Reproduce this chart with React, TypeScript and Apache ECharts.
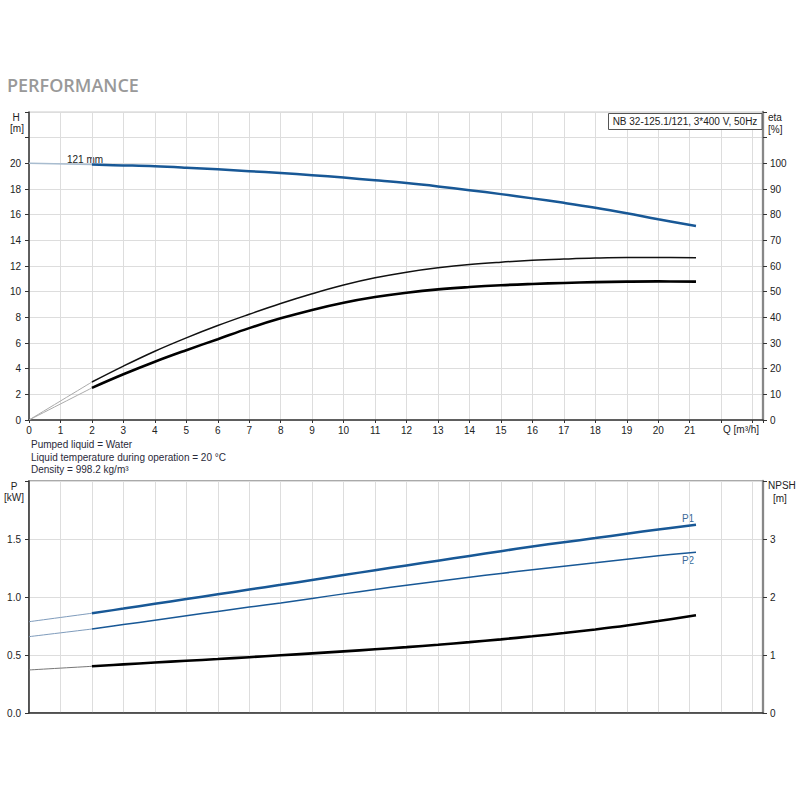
import React, { useEffect, useRef } from "react";
import * as echarts from "echarts";

// Flow points (m³/h) for the operating range
const Q = [2, 3, 4, 5, 6, 7, 8, 9, 10, 11, 12, 13, 14, 15, 16, 17, 18, 19, 20, 21.2];
// Extrapolated (thin) range
const Q_EXT = [0, 2];

// Head H [m]
const H = [19.9, 19.84, 19.77, 19.66, 19.53, 19.39, 19.24, 19.08, 18.89, 18.68, 18.46, 18.2, 17.91, 17.6, 17.27, 16.92, 16.54, 16.11, 15.64, 15.12];
const H_EXT = [20.0, 19.9];

// Efficiency eta [%] (upper, thin black)
const ETA_PUMP = [14.8, 21.0, 26.8, 32.0, 36.8, 41.2, 45.4, 49.2, 52.6, 55.4, 57.6, 59.3, 60.6, 61.5, 62.2, 62.7, 63.1, 63.3, 63.3, 63.2];
const ETA_PUMP_EXT = [0, 14.8];
// Efficiency eta [%] (lower, thick black)
const ETA_TOTAL = [12.5, 17.8, 22.7, 27.2, 31.5, 35.8, 39.6, 42.9, 45.7, 47.9, 49.6, 50.9, 51.8, 52.5, 53.0, 53.4, 53.7, 53.9, 54.0, 53.9];
const ETA_TOTAL_EXT = [0, 12.5];

// Power P1 / P2 [kW]
const P1 = [0.86, 0.9, 0.941, 0.982, 1.023, 1.064, 1.105, 1.147, 1.189, 1.231, 1.272, 1.313, 1.354, 1.395, 1.435, 1.472, 1.508, 1.545, 1.582, 1.623];
const P1_EXT = [0.787, 0.86];
const P2 = [0.724, 0.762, 0.8, 0.838, 0.876, 0.913, 0.949, 0.988, 1.027, 1.065, 1.101, 1.136, 1.17, 1.203, 1.235, 1.266, 1.296, 1.326, 1.355, 1.386];
const P2_EXT = [0.658, 0.724];

// NPSH [m]
const NPSH = [0.805, 0.838, 0.87, 0.9, 0.93, 0.962, 0.995, 1.028, 1.062, 1.098, 1.136, 1.177, 1.222, 1.27, 1.322, 1.378, 1.44, 1.508, 1.585, 1.686];
const NPSH_EXT = [0.742, 0.805];

const X_MAX = 23.33;
const FONT = "'Liberation Sans', Arial, sans-serif";
const BLUE = "#185896";

const pairs = (xs: number[], ys: number[]) => xs.map((x, i) => [x, ys[i]]);

export default function App() {
  const ref = useRef<HTMLDivElement>(null);
  useEffect(() => {
    document.body.style.margin = "0";
    const chart = echarts.init(ref.current!, undefined, { renderer: "svg" });
    const txt = { fontFamily: FONT, fontSize: 10, color: "#222" };
    const gridLine = { show: true, lineStyle: { color: "#dddddd", width: 1 } };
    const xBase = (gridIndex: number, labels: boolean) => ({
      type: "value",
      gridIndex,
      min: 0,
      max: X_MAX,
      interval: 1,
      axisLine: { show: true, onZero: false, lineStyle: { color: "#333", width: 1.5 } },
      axisTick: { show: labels, length: 3, lineStyle: { color: "#333" } },
      axisLabel: {
        show: labels,
        ...txt,
        margin: 5,
        formatter: (v: number) => (v <= 21 && Number.isInteger(v) ? String(v) : ""),
      },
      splitLine: gridLine,
    });
    const line = (name: string, data: number[][], color: string, width: number, xi: number, yi: number) => ({
      name,
      type: "line",
      xAxisIndex: xi,
      yAxisIndex: yi,
      data,
      smooth: 0.4,
      symbol: "none",
      lineStyle: { color, width },
      silent: true,
    });
    const t = (text: string, x: number, y: number, align = "center", extra: any = {}) => ({
      type: "text",
      x,
      y,
      style: {
        text,
        fill: "#222",
        font: `10px ${FONT}`,
        textAlign: align,
        textVerticalAlign: "middle",
        ...extra,
      },
    });

    chart.setOption({
      animation: false,
      grid: [
        { left: 29, right: 37, top: 112, height: 308, show: true, borderColor: "#cccccc", borderWidth: 1, backgroundColor: "transparent" },
        { left: 29, right: 37, top: 481, height: 232, show: true, borderColor: "#aaaaaa", borderWidth: 2, backgroundColor: "transparent" },
      ],
      xAxis: [xBase(0, true), xBase(1, false)],
      yAxis: [
        {
          type: "value", gridIndex: 0, min: 0, max: 24, interval: 2, position: "left",
          axisLine: { show: true, lineStyle: { color: "#333", width: 1.5 } },
          axisTick: { show: true, length: 4, lineStyle: { color: "#333" } },
          axisLabel: { ...txt, margin: 8, formatter: (v: number) => (v > 20 ? "" : String(v)) },
          splitLine: gridLine,
        },
        {
          type: "value", gridIndex: 0, min: 0, max: 120, interval: 10, position: "right",
          axisLine: { show: true, lineStyle: { color: "#888", width: 2.3 } },
          axisTick: { show: true, length: 4, lineStyle: { color: "#333" } },
          axisLabel: { ...txt, margin: 7, formatter: (v: number) => (v > 100 ? "" : String(v)) },
          splitLine: { show: false },
        },
        {
          type: "value", gridIndex: 1, min: 0, max: 2, interval: 0.5, position: "left",
          axisLine: { show: true, lineStyle: { color: "#333", width: 1.5 } },
          axisTick: { show: true, length: 4, lineStyle: { color: "#333" } },
          axisLabel: { ...txt, margin: 8, formatter: (v: number) => (v > 1.6 ? "" : v.toFixed(1)) },
          splitLine: gridLine,
        },
        {
          type: "value", gridIndex: 1, min: 0, max: 4, interval: 1, position: "right",
          axisLine: { show: true, lineStyle: { color: "#888", width: 2.3 } },
          axisTick: { show: true, length: 4, lineStyle: { color: "#333" } },
          axisLabel: { ...txt, margin: 7, formatter: (v: number) => (v > 3 ? "" : String(v)) },
          splitLine: { show: false },
        },
      ],
      series: [
        line("H ext", pairs(Q_EXT, H_EXT), "#a8bccf", 1.5, 0, 0),
        line("H", pairs(Q, H), BLUE, 2.5, 0, 0),
        line("eta pump ext", pairs(Q_EXT, ETA_PUMP_EXT), "#aaaaaa", 1, 0, 1),
        line("eta pump", pairs(Q, ETA_PUMP), "#111", 1.5, 0, 1),
        line("eta total ext", pairs(Q_EXT, ETA_TOTAL_EXT), "#aaaaaa", 1, 0, 1),
        line("eta total", pairs(Q, ETA_TOTAL), "#000", 2.6, 0, 1),
        line("P1 ext", pairs(Q_EXT, P1_EXT), "#7f9cbc", 1, 1, 2),
        line("P1", pairs(Q, P1), BLUE, 2.5, 1, 2),
        line("P2 ext", pairs(Q_EXT, P2_EXT), "#7f9cbc", 1, 1, 2),
        line("P2", pairs(Q, P2), BLUE, 1.5, 1, 2),
        line("NPSH ext", pairs(Q_EXT, NPSH_EXT), "#777", 1, 1, 3),
        line("NPSH", pairs(Q, NPSH), "#000", 2.6, 1, 3),
      ],
      graphic: [
        {
          type: "text", x: 7, y: 85,
          style: { text: "PERFORMANCE", fill: "#999999", font: `600 18px 'Open Sans', sans-serif`, textAlign: "left", textVerticalAlign: "middle" },
        },
        t("H", 16, 117),
        t("[m]", 17, 128.5),
        t("eta", 768, 117.5, "left"),
        t("[%]", 768, 129, "left"),
        t("P", 14, 486),
        t("[kW]", 14, 497.5),
        t("NPSH", 768, 485, "left"),
        t("[m]", 773, 498, "left"),
        t("Q [m³/h]", 723, 429, "left"),
        t("121 mm", 85, 159.5, "center", { fill: "#222" }),
        {
          type: "rect", shape: { x: 608.5, y: 113.5, width: 153.5, height: 16 },
          style: { fill: "#ffffff", stroke: "#555", lineWidth: 1 }, z: 10,
        },
        { ...t("NB 32-125.1/121, 3*400 V, 50Hz", 685, 121.5), z: 11 },
        t("Pumped liquid = Water", 31, 444, "left", { fill: "#2a2a3a" }),
        t("Liquid temperature during operation = 20 °C", 31, 457, "left", { fill: "#2a2a3a" }),
        t("Density = 998.2 kg/m³", 31, 469.5, "left", { fill: "#2a2a3a" }),
        t("P1", 688, 518, "center", { fill: "#3d6a98" }),
        t("P2", 688, 560, "center", { fill: "#3d6a98" }),
      ],
    });
    return () => chart.dispose();
  }, []);
  return <div ref={ref} style={{ width: 800, height: 800 }} />;
}
